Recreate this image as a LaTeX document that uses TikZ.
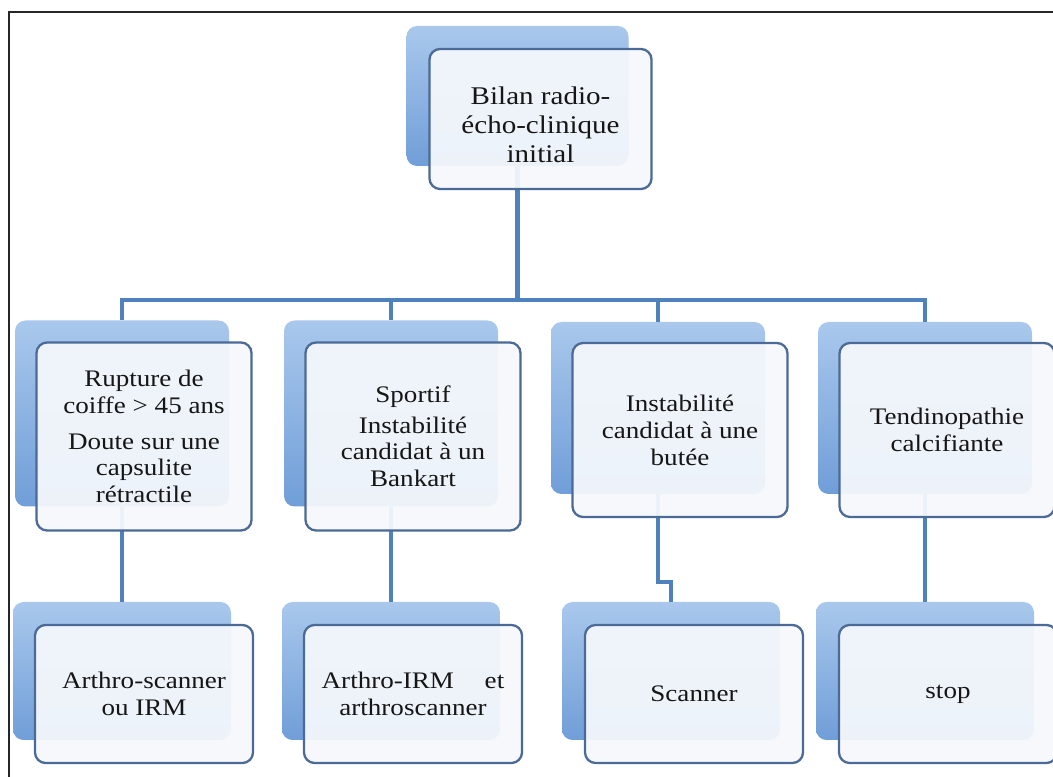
\documentclass[tikz,border=0pt]{standalone}
\usepackage{fontspec}
\setmainfont{Liberation Serif}[FakeStretch=1.14]
\definecolor{boxtop}{RGB}{169, 200, 236}
\definecolor{boxbot}{RGB}{112, 158, 216}
\definecolor{cardline}{RGB}{76, 106, 152}
\definecolor{cardfill}{RGB}{245, 248, 252}
\definecolor{linkblue}{RGB}{79, 129, 189}
\definecolor{txt}{RGB}{22, 22, 22}

\begin{document}
\begin{tikzpicture}[
        back/.style={rounded corners=6pt, top color=boxtop, bottom color=boxbot, minimum width=4.36cm, minimum height=2.76cm},
        card/.style={draw=cardline, line width=1.3pt, rounded corners=6pt, fill=cardfill, fill opacity=0.94, text opacity=1, text=txt, align=center, inner sep=2pt, minimum width=4.36cm, minimum height=2.76cm, font=\fontsize{13.5}{15.3}\selectfont},
        link/.style={draw=linkblue, line width=2.3pt},
        frame/.style={draw=black!85, line width=0.9pt}
    ]
        \clip (0,0) rectangle (21.06,15.52);
        \draw[frame] (0.18,-1) rectangle (22,15.28);

        % shaded back plates
        \node[back, minimum width=4.44cm, minimum height=2.8cm] (bilan) at (10.35,13.6) {};
        \node[back, minimum width=4.28cm, minimum height=3.72cm] (rupture) at (2.44,7.25) {};
        \node[back, minimum width=4.28cm, minimum height=3.72cm] (sportif) at (7.82,7.25) {};
        \node[back, minimum width=4.28cm, minimum height=3.44cm] (butee) at (13.16,7.36) {};
        \node[back, minimum width=4.28cm, minimum height=3.44cm] (calcif) at (18.5,7.36) {};
        \node[back] (arthroscan) at (2.44,2.1) {};
        \node[back] (arthroirm) at (7.82,2.1) {};
        \node[back] (scanner) at (13.42,2.1) {};
        \node[back] (stop) at (18.5,2.1) {};

        % connectors
        \draw[link] (bilan.south) -- ++(0,-2.68) coordinate (bus);
        \draw[link] (rupture.north) |- (bus) -| (calcif.north);
        \draw[link] (sportif.north) -- (sportif.north |- bus);
        \draw[link] (butee.north) -- (butee.north |- bus);
        \draw[link] (rupture.south) -- (arthroscan.north);
        \draw[link] (sportif.south) -- (arthroirm.north);
        \draw[link] (butee.south) -- (butee.south |- 0,3.88) -| (scanner.north);
        \draw[link] (calcif.south) -- (stop.north);

        % text cards
        \node[card, minimum width=4.44cm, minimum height=2.8cm, font=\fontsize{14.5}{16.5}\selectfont] (fbilan) at ([shift={(0.46,-0.46)}]bilan) {\rule{0pt}{17pt}Bilan radio-\\écho-clinique\\initial};
        \node[card, minimum width=4.3cm, minimum height=3.76cm] (frupture) at ([shift={(0.44,-0.46)}]rupture) {Rupture de\\coiffe > 45 ans\\[5pt]Doute sur une\\capsulite\\rétractile};
        \node[card, minimum width=4.3cm, minimum height=3.76cm] (fsportif) at ([shift={(0.44,-0.46)}]sportif) {Sportif\\[2pt]Instabilité\\candidat à un\\Bankart};
        \node[card, minimum width=4.3cm, minimum height=3.48cm] (fbutee) at ([shift={(0.44,-0.44)}]butee) {Instabilité\\candidat à une\\butée};
        \node[card, minimum width=4.3cm, minimum height=3.48cm] (fcalcif) at ([shift={(0.44,-0.44)}]calcif) {Tendinopathie\\calcifiante};
        \node[card] (farthroscan) at ([shift={(0.44,-0.46)}]arthroscan) {Arthro-scanner\\ou IRM};
        \node[card] (farthroirm) at ([shift={(0.44,-0.46)}]arthroirm) {Arthro-IRM\hspace{1.3em}et\\arthroscanner};
        \node[card] (fscanner) at ([shift={(0.46,-0.46)}]scanner) {Scanner};
        \node[card] (fstop) at ([shift={(0.46,-0.46)}]stop) {stop};
    \end{tikzpicture}
\end{document}
